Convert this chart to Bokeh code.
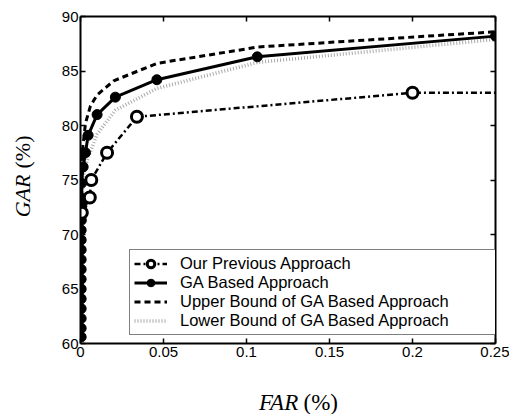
import math
from bokeh.plotting import figure
from bokeh.layouts import row, column
from bokeh.models import (Range1d, LinearAxis, FixedTicker, Legend, LegendItem, Label)
from bokeh.embed import file_html
from bokeh.resources import INLINE

# ---- data (FAR %, GAR %) ----
ga_far = [0.0004, 0.0004, 0.0004, 0.0004, 0.0004, 0.0004, 0.0004, 0.0004, 0.0004, 0.0004,
          0.0004, 0.0004, 0.0005, 0.0006, 0.0008, 0.001, 0.0006, 0.0016, 0.003, 0.0046,
          0.010, 0.021, 0.046, 0.1065, 0.25]
ga_gar = [60.6, 61.4, 62.3, 63.2, 64.1, 65.0, 65.9, 66.8, 67.7, 68.6,
          69.5, 70.4, 71.3, 72.0, 72.6, 73.3, 74.7, 76.2, 77.5, 79.1,
          81.0, 82.6, 84.2, 86.3, 88.2]

prev_far = [0.0008, 0.0056, 0.0065, 0.016, 0.034, 0.2, 0.3]
prev_gar = [72.0, 73.4, 75.0, 77.5, 80.8, 83.0, 83.0]

upper_far = [0.0002, 0.001, 0.003, 0.006, 0.010, 0.020, 0.046, 0.107, 0.25]
upper_gar = [74.0, 77.5, 80.2, 81.8, 82.8, 84.1, 85.7, 87.2, 88.6]

lower_far = [0.0005, 0.002, 0.004, 0.010, 0.021, 0.046, 0.107, 0.25]
lower_gar = [72.5, 75.5, 76.8, 79.2, 81.4, 83.4, 85.8, 87.9]

x_ticks = [0, 0.05, 0.1, 0.15, 0.2, 0.25]
x_tick_labels = ["0", "0.05", "0.1", "0.15", "0.2", "0.25"]
y_ticks = [60, 65, 70, 75, 80, 85, 90]
y_tick_labels = ["60", "65", "70", "75", "80", "85", "90"]

legend_labels = ["Our Previous Approach", "GA Based Approach",
                 "Upper Bound of GA Based Approach", "Lower Bound of GA Based Approach"]
x_title = ["FAR", "(%)"]
y_title = ["GAR", "(%)"]

SANS = "Liberation Sans"
SERIF = "Liberation Serif"

LEFT_W = 40
BOTTOM_H = 44
W, H = 509, 414

p = figure(width=W - LEFT_W, height=H - BOTTOM_H, output_backend="svg", toolbar_location=None,
           x_range=Range1d(0, 0.25), y_range=Range1d(60, 90),
           min_border_left=80 - LEFT_W, min_border_right=14, min_border_top=16,
           min_border_bottom=(H - BOTTOM_H) - 343, x_axis_location=None, y_axis_location=None)
p.grid.visible = False
p.outline_line_color = None
p.background_fill_color = "white"
p.border_fill_color = "white"


def style_axis(ax, ticks, labels, show_labels=True):
    ax.ticker = FixedTicker(ticks=ticks)
    ax.axis_line_color = "black"
    ax.axis_line_width = 2
    ax.major_tick_in = 5
    ax.major_tick_out = 0
    ax.major_tick_line_width = 1.5
    ax.major_tick_line_color = "black"
    ax.minor_tick_line_color = None
    ax.major_label_text_font = SANS
    ax.major_label_text_color = "black"
    if show_labels:
        ax.major_label_overrides = {t: l for t, l in zip(ticks, labels)}
        ax.major_label_text_font_size = "15px"
        ax.major_label_standoff = 3
    else:
        ax.major_label_overrides = {t: "" for t in ticks}
        ax.major_label_text_font_size = "1px"
        ax.major_label_standoff = 0


xb = LinearAxis(); style_axis(xb, x_ticks, x_tick_labels); p.add_layout(xb, "below")
xt = LinearAxis(); style_axis(xt, x_ticks, x_tick_labels, False); p.add_layout(xt, "above")
yl = LinearAxis(); style_axis(yl, y_ticks, y_tick_labels); p.add_layout(yl, "left")
yr = LinearAxis(); style_axis(yr, y_ticks, y_tick_labels, False); p.add_layout(yr, "right")
yl.major_label_standoff = 2

# ---- series ----
r_lower = p.line(lower_far, lower_gar, line_color="#a8a8a8", line_width=3.5, line_dash="1 2")
r_upper = p.line(upper_far, upper_gar, line_color="black", line_width=3, line_dash="6 4")
r_ga_line = p.line(ga_far, ga_gar, line_color="black", line_width=3)
r_ga_pts = p.scatter(ga_far, ga_gar, marker="circle", size=10, fill_color="black",
                     line_color="black")
r_prev_line = p.line(prev_far, prev_gar, line_color="black", line_width=2.5,
                     line_dash="6 3 2 3")
r_prev_pts = p.scatter(prev_far, prev_gar, marker="circle", size=11, fill_color="white",
                       line_color="black", line_width=3)

legend = Legend(items=[
    LegendItem(label=legend_labels[0], renderers=[r_prev_line, r_prev_pts]),
    LegendItem(label=legend_labels[1], renderers=[r_ga_line, r_ga_pts]),
    LegendItem(label=legend_labels[2], renderers=[r_upper]),
    LegendItem(label=legend_labels[3], renderers=[r_lower]),
], location=(49, 8))
legend.label_text_font = SANS
legend.label_text_font_size = "16.5px"
legend.label_text_color = "black"
legend.label_height = 19
legend.glyph_height = 19
legend.glyph_width = 33
legend.label_standoff = 13
legend.label_width = 311
legend.spacing = 0
legend.padding = 4
legend.margin = 0
legend.border_line_color = "black"
legend.border_line_width = 1.5
legend.background_fill_color = "white"
legend.background_fill_alpha = 1
p.add_layout(legend, "center")


def label_fig(w, h):
    f = figure(width=w, height=h, output_backend="svg", toolbar_location=None,
               x_range=Range1d(0, w), y_range=Range1d(0, h),
               min_border=0, x_axis_location=None, y_axis_location=None)
    f.grid.visible = False
    f.outline_line_color = None
    f.background_fill_color = "white"
    f.border_fill_color = "white"
    return f


# ---- x title (below the plot) ----
fx = label_fig(W - LEFT_W, BOTTOM_H)
split_x = 286 - LEFT_W
fx.add_layout(Label(x=split_x, y=12, text=x_title[0], text_font=SERIF, text_font_style="italic",
                    text_font_size="23px", text_align="right", text_baseline="middle",
                    text_color="black"))
fx.add_layout(Label(x=split_x + 6, y=12, text=x_title[1], text_font=SERIF,
                    text_font_size="23px", text_align="left", text_baseline="middle",
                    text_color="black"))

# ---- y title (left of the plot) ----
fy = label_fig(LEFT_W, H)
split_y = H - 174
fy.add_layout(Label(x=22, y=split_y, text=y_title[0], text_font=SERIF, text_font_style="italic",
                    text_font_size="22px", text_align="right", text_baseline="middle",
                    angle=math.pi / 2, text_color="black"))
fy.add_layout(Label(x=22, y=split_y + 6, text=y_title[1], text_font=SERIF,
                    text_font_size="22px", text_align="left", text_baseline="middle",
                    angle=math.pi / 2, text_color="black"))

layout = row(fy, column(p, fx, spacing=0), spacing=0)
open("out.html", "w").write(file_html(layout, INLINE))
